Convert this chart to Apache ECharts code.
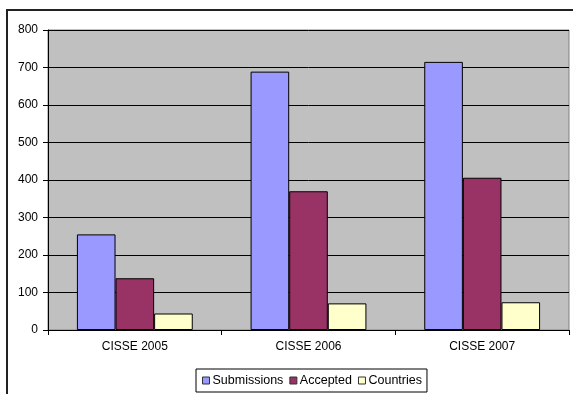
<!DOCTYPE html>
<html>
<head>
    <meta charset="utf-8">
    <script src="https://cdn.jsdelivr.net/npm/echarts@6/dist/echarts.min.js"></script>
</head>
<style>
    *{
        margin:0;
        padding:0;
    }
    body{
        background:#fff;
    }
</style>
<body>
<div id="main" style="width:573px;height:394px;"></div>
<script type="text/javascript">
    // data
    var categories = ["CISSE 2005", "CISSE 2006", "CISSE 2007"];
    var submissions = [255, 689, 715];
    var accepted = [138, 370, 406];
    var countries = [44, 71, 74];
    var yTicks = [0, 100, 200, 300, 400, 500, 600, 700, 800];

    var chart = echarts.init(document.getElementById("main"));
    var font = "'Liberation Sans', Arial, sans-serif";

    function barSeries(name, data, color) {
        return {
            name: name,
            type: 'bar',
            data: data,
            barGap: '0%',
            barCategoryGap: '33.3%',
            itemStyle: { color: color, borderColor: '#000', borderWidth: 1 }
        };
    }

    var option = {
        animation: false,
        textStyle: { fontFamily: font },
        graphic: [{
            type: 'rect',
            shape: { x: 7, y: 10, width: 620, height: 420 },
            style: { fill: 'none', stroke: '#222', lineWidth: 2 },
            silent: true
        }],
        grid: {
            left: 48, top: 30, right: 4, bottom: 64,
            show: true,
            backgroundColor: '#C0C0C0',
            borderColor: '#808080',
            borderWidth: 1
        },
        legend: {
            left: 196, top: 369,
            padding: [5, 5, 5, 6],
            itemWidth: 7, itemHeight: 7,
            itemGap: 6,
            borderColor: '#000', borderWidth: 1,
            icon: 'rect',
            itemStyle: { borderColor: '#333', borderWidth: 1 },
            textStyle: { fontFamily: font, fontSize: 12.5, color: '#000', padding: [0, 0, 0, -2] },
            data: ['Submissions', 'Accepted', 'Countries']
        },
        xAxis: {
            type: 'category',
            data: categories,
            axisLine: { lineStyle: { color: '#000', width: 1 } },
            axisTick: { show: true, length: 5, lineStyle: { color: '#000' } },
            axisLabel: { color: '#000', fontSize: 12, fontFamily: font, margin: 11 }
        },
        yAxis: {
            type: 'value',
            min: yTicks[0],
            max: yTicks[yTicks.length - 1],
            interval: 100,
            axisLine: { show: true, lineStyle: { color: '#000', width: 1 } },
            axisTick: { show: true, length: 5, lineStyle: { color: '#000' } },
            axisLabel: { color: '#000', fontSize: 12, fontFamily: font, margin: 10 },
            splitLine: { lineStyle: { color: '#000', width: 1 } }
        },
        series: [
            barSeries('Submissions', submissions, '#9999FF'),
            barSeries('Accepted', accepted, '#993366'),
            barSeries('Countries', countries, '#FFFFCC')
        ]
    };

    chart.setOption(option);
</script>
</body>
</html>
